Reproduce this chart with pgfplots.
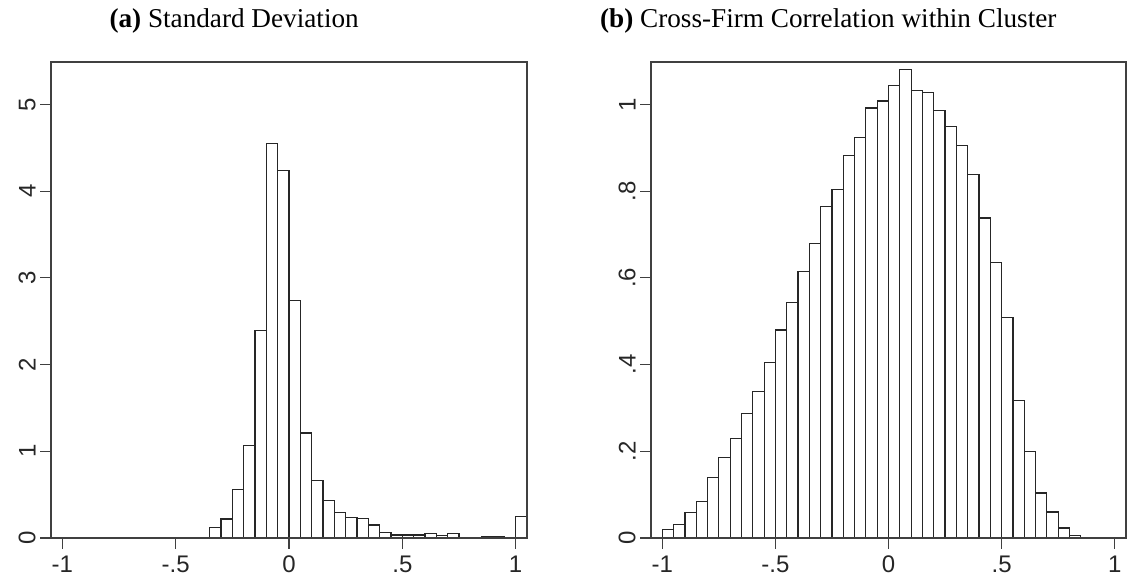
\documentclass[border=0pt]{standalone}
\usepackage{fontspec}
\setmainfont{Liberation Serif}
\newfontfamily\sansf{Liberation Sans}
\usepackage{pgfplots}
\pgfplotsset{compat=1.18}
\begin{document}
\begin{tikzpicture}
\path[use as bounding box] (0,0) rectangle (846pt,438pt);
\pgfplotsset{
  stata/.style={
    scale only axis,
    height=357pt,
    axis on top,
    axis line style={black!75, line width=1pt},
    tick pos=left,
    tick align=outside,
    major tick length=8pt,
    tick style={black!75, line width=0.8pt},
    tick label style={font=\sansf\fontsize{18}{20}\selectfont, text=black!85},
    xmin=-1.05, xmax=1.05, ymin=0,
    xtick={-1,-0.5,0,0.5,1},
    xticklabels={-1,-.5,0,.5,1},
    yticklabel style={rotate=90, anchor=south},
    xticklabel style={yshift=-2pt},
  },
  bars/.style={ybar interval, fill=white, draw=black!85, line width=0.9pt},
}
\begin{axis}[stata, at={(38.25pt,34.5pt)}, anchor=south west, width=357pt,
  ymax=5.49, ytick={0,1,2,3,4,5}, yticklabels={0,1,2,3,4,5}]
\addplot[bars] coordinates {
(-0.35,0.12) (-0.30,0.22) (-0.25,0.56) (-0.20,1.07) (-0.15,2.39)
(-0.10,4.55) (-0.05,4.24) (0.00,2.74) (0.05,1.21) (0.10,0.665)
(0.15,0.435) (0.20,0.296) (0.25,0.238) (0.30,0.227) (0.35,0.15)
(0.40,0.065) (0.45,0.035) (0.50,0.035) (0.55,0.035) (0.60,0.05)
(0.65,0.03) (0.70,0.05) (0.75,0.006) (0.80,0.006) (0.85,0.02)
(0.90,0.02) (0.95,0.004) (1.00,0.25) (1.05,0)
};
\end{axis}
\begin{axis}[stata, at={(488.25pt,34.5pt)}, anchor=south west, width=356.25pt,
  ymax=1.098, ytick={0,0.2,0.4,0.6,0.8,1}, yticklabels={0,.2,.4,.6,.8,1}]
\addplot[bars] coordinates {
(-1.00,0.019) (-0.95,0.032) (-0.90,0.058) (-0.85,0.085) (-0.80,0.139)
(-0.75,0.185) (-0.70,0.230) (-0.65,0.288) (-0.60,0.338) (-0.55,0.405)
(-0.50,0.480) (-0.45,0.544) (-0.40,0.614) (-0.35,0.680) (-0.30,0.765)
(-0.25,0.803) (-0.20,0.883) (-0.15,0.924) (-0.10,0.992) (-0.05,1.008)
(0.00,1.044) (0.05,1.081) (0.10,1.033) (0.15,1.027) (0.20,0.986)
(0.25,0.949) (0.30,0.906) (0.35,0.838) (0.40,0.738) (0.45,0.636)
(0.50,0.508) (0.55,0.318) (0.60,0.200) (0.65,0.104) (0.70,0.060)
(0.75,0.023) (0.80,0.006) (0.85,0.002) (0.90,0) (0.95,0) (1.00,0)
};
\end{axis}
\node[anchor=base, font=\fontsize{20.4}{24}\selectfont] at (175.6pt,417pt) {\textbf{(a)} Standard Deviation};
\node[anchor=base, font=\fontsize{20.4}{24}\selectfont] at (621.2pt,417pt) {\textbf{(b)} Cross-Firm Correlation within Cluster};
\end{tikzpicture}
\end{document}
